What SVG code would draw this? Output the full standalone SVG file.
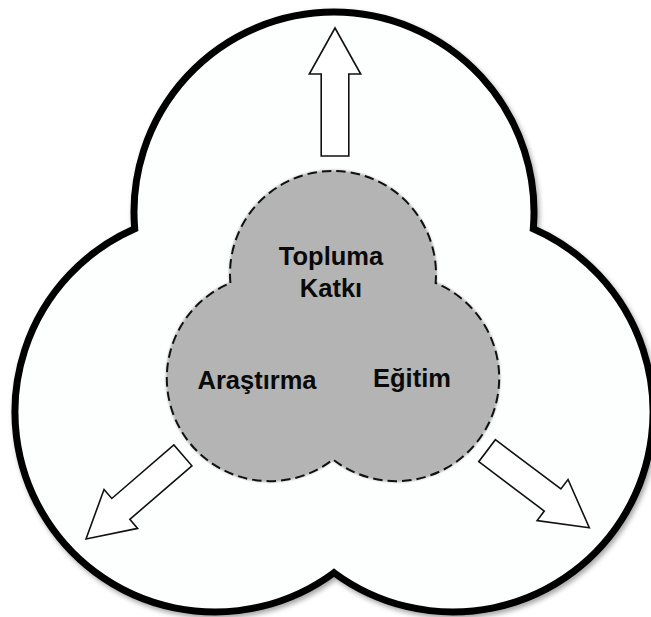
<svg xmlns="http://www.w3.org/2000/svg" width="651" height="617" viewBox="0 0 651 617">
  <style>
    .lbl { font-family: "Liberation Sans", Arial, sans-serif; font-weight: bold; font-size: 25.5px; fill: #0a0a0a; text-anchor: middle; }
    .arrow { fill: #ffffff; stroke: #111111; stroke-width: 1.6; stroke-linejoin: miter; }
  </style>
  <defs>
    <filter id="shadow" x="-10%" y="-10%" width="120%" height="120%">
      <feDropShadow dx="2" dy="3" stdDeviation="2.5" flood-color="#000000" flood-opacity="0.35"/>
    </filter>
    <filter id="soft" x="-10%" y="-10%" width="120%" height="120%">
      <feGaussianBlur stdDeviation="1.2"/>
    </filter>
    <path id="blockArrow" d="M0,0 L25.7,46 L13.8,46 L13.8,128 L-13.8,128 L-13.8,46 L-25.7,46 Z"/>
  </defs>
  <rect width="651" height="617" fill="#ffffff"/>

  <g id="outer-shape">
    <path d="M134.7,228.8 A200,200 0 1 1 533.3,228.8 A200,200 0 1 1 334,572.7 A200,200 0 1 1 134.7,228.8 Z" fill="#fdfefe" stroke="#000000" stroke-width="7" stroke-linejoin="miter" filter="url(#shadow)"/>
  </g>

  <g id="inner-shape">
    <path d="M230.4,283 A103,103 0 1 1 435.6,283 A103,103 0 1 1 333,459.5 A103,103 0 1 1 230.4,283 Z" fill="#b4b4b4" stroke="#b4b4b4" stroke-width="2" filter="url(#soft)"/>
    <path d="M230.4,283 A103,103 0 1 1 435.6,283 A103,103 0 1 1 333,459.5 A103,103 0 1 1 230.4,283 Z" fill="none" stroke="#111111" stroke-width="2" stroke-dasharray="9.5 5"/>
  </g>

  <g id="label-topluma-katki">
    <text class="lbl" x="331" y="265">Topluma</text>
    <text class="lbl" x="331" y="297">Katkı</text>
  </g>
  <g id="label-arastirma">
    <text class="lbl" x="257" y="389">Araştırma</text>
  </g>
  <g id="label-egitim">
    <text class="lbl" x="412" y="387">Eğitim</text>
  </g>

  <g id="connectors">
    <use href="#blockArrow" class="arrow" transform="translate(335,28)"/>
    <use href="#blockArrow" class="arrow" transform="translate(86,539) rotate(-130.8)"/>
    <use href="#blockArrow" class="arrow" transform="translate(589.3,527.7) rotate(127)"/>
  </g>
</svg>
